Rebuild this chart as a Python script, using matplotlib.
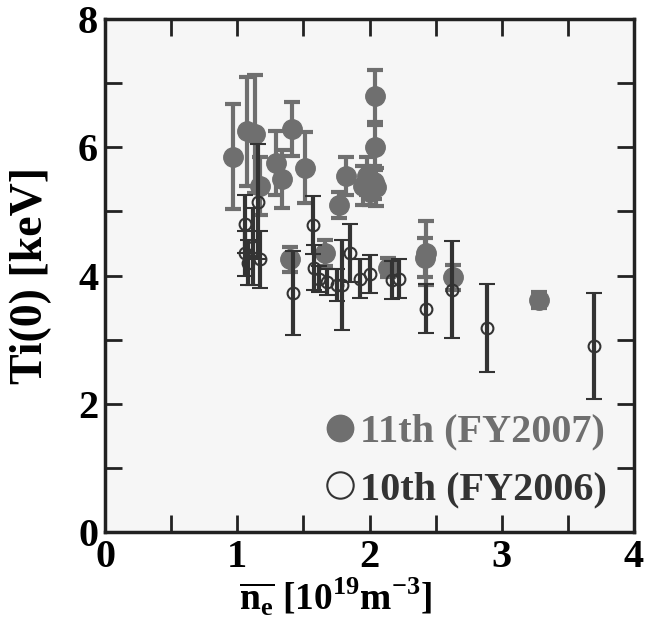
import numpy as np
import matplotlib
matplotlib.use('Agg')
import matplotlib.pyplot as plt
from matplotlib.ticker import MultipleLocator
from matplotlib.lines import Line2D

plt.rcParams['font.family'] = 'Liberation Serif'
plt.rcParams['font.weight'] = 'bold'
plt.rcParams['mathtext.fontset'] = 'custom'
plt.rcParams['mathtext.rm'] = 'Liberation Serif:bold'
plt.rcParams['mathtext.bf'] = 'Liberation Serif:bold'

# 11th campaign (FY2007)
ne_11 = [0.97, 1.07, 1.13, 1.17, 1.29, 1.34, 1.41, 1.51, 1.40, 1.66, 1.77, 1.82,
         1.95, 1.98, 2.00, 2.03, 2.05, 2.04, 2.04, 2.14, 2.43, 2.42, 2.63, 3.28]
ti_11 = [5.85, 6.25, 6.20, 5.40, 5.75, 5.50, 6.28, 5.68, 4.25, 4.35, 5.10, 5.55,
         5.40, 5.55, 5.30, 5.45, 5.38, 6.80, 6.00, 4.12, 4.35, 4.28, 3.97, 3.62]
err_11 = [0.82, 0.85, 0.92, 0.45, 0.50, 0.45, 0.42, 0.55, 0.20, 0.20, 0.20, 0.30,
          0.30, 0.30, 0.20, 0.25, 0.30, 0.40, 0.35, 0.15, 0.50, 0.30, 0.20, 0.12]

# 10th campaign (FY2006)
ne_10 = [1.06, 1.06, 1.08, 1.12, 1.16, 1.17, 1.42, 1.57, 1.58, 1.62, 1.68, 1.75,
         1.79, 1.85, 1.93, 2.00, 2.17, 2.22, 2.43, 2.62, 2.89, 3.70]
ti_10 = [4.80, 4.35, 4.20, 4.45, 5.15, 4.25, 3.73, 4.79, 4.12, 3.95, 3.90, 3.85,
         3.85, 4.35, 3.95, 4.02, 3.93, 3.95, 3.48, 3.78, 3.18, 2.90]
err_10 = [0.45, 0.35, 0.35, 0.60, 0.90, 0.45, 0.65, 0.45, 0.35, 0.20, 0.20, 0.25,
          0.70, 0.45, 0.30, 0.30, 0.30, 0.30, 0.38, 0.75, 0.69, 0.82]

c11 = '#6f6f6f'
c10 = '#333333'

fig = plt.figure(figsize=(6.57, 6.29), dpi=100)
ax = fig.add_axes([0.160, 0.154, 0.805, 0.816])
ax.set_facecolor('#f6f6f6')

ax.errorbar(ne_11, ti_11, yerr=err_11, fmt='o', color=c11, ecolor=c11,
            ms=14, elinewidth=3, capsize=6, capthick=3, zorder=2)
ax.errorbar(ne_10, ti_10, yerr=err_10, fmt='o', color=c10, ecolor=c10,
            mfc='none', mec=c10, mew=1.5, ms=8.5,
            elinewidth=3, capsize=6, capthick=3, zorder=3)

ax.set_xlim(0, 4)
ax.set_ylim(0, 8)
ax.xaxis.set_major_locator(MultipleLocator(1))
ax.xaxis.set_minor_locator(MultipleLocator(0.5))
ax.yaxis.set_major_locator(MultipleLocator(2))
ax.yaxis.set_minor_locator(MultipleLocator(1))
ax.tick_params(which='both', direction='in', top=True, right=True,
               width=2, labelsize=29, color='#222222')
ax.tick_params(which='major', length=12, pad=5)
ax.tick_params(which='minor', length=12)
for s in ax.spines.values():
    s.set_linewidth(2.5)
    s.set_color('#222222')

ax.set_ylabel('Ti(0) [keV]', fontsize=33, fontweight='bold')
ax.yaxis.set_label_coords(-0.10, 0.5)
ax.set_xlabel(r'$\overline{\mathrm{n}_\mathrm{e}}$ [10$^{19}$m$^{-3}$]',
              fontsize=27, fontweight='bold')
ax.xaxis.set_label_coords(0.435, -0.085)

handles = [
    Line2D([], [], marker='o', ls='none', color=c11, ms=19),
    Line2D([], [], marker='o', ls='none', mfc='none', mec=c10, mew=1.5, ms=19),
]
leg = ax.legend(handles, ['11th (FY2007)', '10th (FY2006)'], loc='lower right',
                bbox_to_anchor=(0.995, 0.0), frameon=False, fontsize=29,
                handletextpad=0.0, handlelength=1.0, labelspacing=0.5,
                borderaxespad=0.2)
for t, c in zip(leg.get_texts(), [c11, c10]):
    t.set_color(c)
    t.set_fontweight('bold')

fig.savefig('out.png', dpi=100, facecolor='white')
